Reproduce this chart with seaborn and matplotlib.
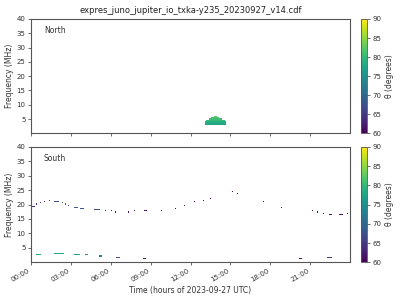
import numpy as np
import matplotlib
matplotlib.use("Agg")
import matplotlib.pyplot as plt
import seaborn as sns

# ---------------- data ----------------
title = "expres_juno_jupiter_io_txka-y235_20230927_v14.cdf"

# North hemisphere emission: one dome-shaped patch (rows of frequency)
north_freq  = [3.0, 3.4, 3.8, 4.2, 4.6, 5.0, 5.4, 5.8]
north_start = [13.10, 13.10, 13.10, 13.12, 13.22, 13.38, 13.55, 13.75]
north_end   = [14.67, 14.67, 14.67, 14.62, 14.52, 14.38, 14.15, 13.98]
north_theta = [77.5, 78.0, 78.5, 79.2, 80.0, 80.8, 81.5, 82.0]

# South hemisphere emission: short segments / dots
south_start = [0.00, 0.40, 0.65, 1.00, 1.35, 1.80, 2.30, 2.60, 2.85, 3.20,
               3.70, 4.75, 5.60, 6.00, 6.35, 7.30, 7.80, 8.50, 9.80, 10.80,
               11.50, 12.25, 13.00, 13.45, 15.10, 15.50, 17.45, 18.85, 21.15,
               21.55, 22.00, 22.40, 23.20, 23.80,
               0.38, 1.80, 3.23, 4.06, 5.12, 6.37, 8.43, 20.20, 22.24]
south_end   = [0.30, 0.45, 0.70, 1.05, 1.40, 2.05, 2.35, 2.65, 2.90, 3.50,
               4.00, 5.20, 5.65, 6.05, 6.40, 7.35, 7.85, 8.70, 9.85, 10.85,
               11.55, 12.30, 13.05, 13.50, 15.15, 15.55, 17.50, 18.90, 21.20,
               21.60, 22.05, 22.60, 23.40, 23.85,
               0.73, 2.50, 3.69, 4.34, 5.39, 6.70, 8.65, 20.40, 22.62]
south_freq  = [19.6, 20.2, 20.6, 21.0, 21.3, 21.2, 20.8, 20.3, 19.8, 19.2,
               18.8, 18.3, 18.0, 17.7, 17.4, 17.4, 17.7, 17.7, 17.7, 18.8,
               19.8, 20.9, 21.6, 22.4, 24.7, 24.0, 20.9, 19.1, 17.7,
               17.4, 17.0, 16.6, 16.6, 17.0,
               2.8, 3.0, 2.8, 2.5, 2.3, 1.9, 1.6, 1.6, 1.9]
south_theta = [63.5, 64, 64, 64.5, 65, 67, 67.5, 68, 68, 68.5,
               68, 67, 63, 62.5, 62, 61, 61, 61.5, 61, 61,
               61, 61, 61, 61, 61, 61, 61, 61, 61,
               61, 61, 61.5, 61.5, 61,
               78, 78, 77, 74, 73, 67, 62, 61, 66]

hour_ticks = [0, 3, 6, 9, 12, 15, 18, 21]
hour_labels = ["00:00", "03:00", "06:00", "09:00", "12:00", "15:00", "18:00", "21:00"]
freq_ticks = [5, 10, 15, 20, 25, 30, 35, 40]
cbar_ticks = [60, 65, 70, 75, 80, 85, 90]

# ---------------- build grids ----------------
t_edges = np.linspace(0, 24, 301)
f_edges = np.linspace(0, 40, 101)
t_step = t_edges[1] - t_edges[0]


def make_grid(starts, ends, freqs, thetas):
    grid = np.full((len(f_edges) - 1, len(t_edges) - 1), np.nan)
    tc = 0.5 * (t_edges[1:] + t_edges[:-1])
    for t0, t1, f, th in zip(starts, ends, freqs, thetas):
        fi = np.searchsorted(f_edges, f) - 1
        ti = np.where((tc >= t0) & (tc <= t1))[0]
        if len(ti) == 0:
            ti = [min(int(round(0.5 * (t0 + t1) / t_step - 0.5)),
                      len(t_edges) - 2)]
        grid[fi, ti] = th
    return grid


north_grid = make_grid(north_start, north_end, north_freq, north_theta)
south_grid = make_grid(south_start, south_end, south_freq, south_theta)

# ---------------- plot ----------------
sns.set_theme(style="ticks")
plt.rcParams["font.family"] = ["DejaVu Sans"]
edge = "#555555"
plt.rcParams.update({
    "axes.edgecolor": edge, "xtick.color": edge, "ytick.color": edge,
    "xtick.labelcolor": "#333333", "ytick.labelcolor": "#333333",
    "axes.linewidth": 0.8, "xtick.major.width": 0.6, "ytick.major.width": 0.6,
    "xtick.major.size": 2.5, "ytick.major.size": 2.5,
})

fig = plt.figure(figsize=(4, 3), dpi=100)
ax_n = fig.add_axes([0.0775, 0.5557, 0.7975, 0.381])
ax_s = fig.add_axes([0.0775, 0.1257, 0.7975, 0.385])
cax_n = fig.add_axes([0.902, 0.5557, 0.0165, 0.381])
cax_s = fig.add_axes([0.902, 0.1257, 0.0165, 0.385])

cmap = sns.color_palette("viridis", as_cmap=True)

for ax, cax, grid, name in [(ax_n, cax_n, north_grid, "North"),
                            (ax_s, cax_s, south_grid, "South")]:
    mesh = ax.pcolormesh(t_edges, f_edges, grid, cmap=cmap, vmin=60, vmax=90,
                         shading="flat", rasterized=True)
    ax.set_xlim(0, 24)
    ax.set_ylim(0, 40)
    ax.set_yticks(freq_ticks)
    ax.set_xticks(hour_ticks)
    ax.tick_params(labelsize=5, pad=1.5)
    ax.set_ylabel("Frequency (MHz)", fontsize=5.5, color="#333333", labelpad=2)
    ax.text(0.04, 0.9, name, transform=ax.transAxes, fontsize=5.5,
            color="#333333", va="center")
    cb = fig.colorbar(mesh, cax=cax, ticks=cbar_ticks)
    cb.outline.set_edgecolor(edge)
    cb.outline.set_linewidth(0.6)
    cax.tick_params(labelsize=5, pad=1.5, length=2)
    cb.set_label("θ (degrees)", fontsize=5.5, color="#333333", labelpad=3)

ax_n.set_xticklabels([])
ax_s.set_xticklabels(hour_labels, rotation=30, ha="right")
ax_s.set_xlabel("Time (hours of 2023-09-27 UTC)", fontsize=5.5,
                color="#333333", labelpad=2)
ax_n.set_title(title, fontsize=6.0, color="#222222", pad=4)

fig.savefig("out.png", dpi=100)
